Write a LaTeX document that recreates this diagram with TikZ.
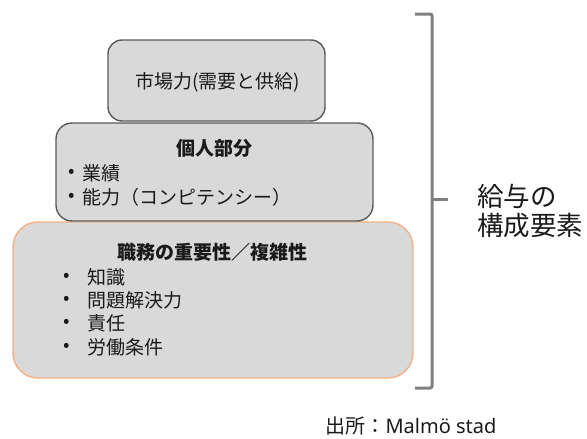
\documentclass[tikz,border=0pt]{standalone}
\usepackage{fontspec}
\setmainfont{Noto Sans CJK JP}
\newfontfamily\latinfont{Noto Sans}
\definecolor{boxfill}{HTML}{D9D9D9}
\definecolor{boxline}{HTML}{5A5A5A}
\definecolor{orangeline}{HTML}{F4B183}
\definecolor{bracketgray}{HTML}{7F7F7F}
\definecolor{txt}{HTML}{1A1A1A}
\begin{document}
\begin{tikzpicture}[x=1pt,y=-1pt,
  tier/.style={draw=boxline, line width=1.4pt, fill=boxfill, rectangle, inner sep=0pt},
  body/.style={font=\fontsize{19}{23}\selectfont, text=txt, inner sep=0pt},
  head/.style={body, font=\fontsize{19}{23}\selectfont\bfseries},
  item/.style={body, anchor=west},
  dot/.style={body},
  side/.style={font=\fontsize{26.5}{30}\selectfont, text=txt, inner sep=0pt, anchor=west},
  brk/.style={draw=bracketgray, line width=3pt, rounded corners=2pt}
]
\useasboundingbox (0,0) rectangle (587,439);

% tiers
\node[tier, draw=orangeline, rounded corners=25pt, minimum width=400pt, minimum height=156pt] (job) at (213,300) {};
\node[tier, rounded corners=16pt, minimum width=317pt, minimum height=98pt] (indiv) at (214.5,172) {};
\node[tier, rounded corners=14pt, minimum width=217pt, minimum height=81pt] (market) at (216.5,80.5) {};

% top tier text
\node[body] (marketT) at (217.5,82) {市場力(需要と供給)};

% middle tier text
\node[head] (indivT) at (214,148) {個人部分};
\node[dot] (d1) at (72,173) {•};
\node[item] (i1) at (82,173) {業績};
\node[dot] (d2) at (72,197) {•};
\node[item] (i2) at (82,197) {能力（コンピテンシー）};

% bottom tier text
\node[head] (jobT) at (212.5,252) {職務の重要性／複雑性};
\node[dot] (b1) at (67,277) {•};
\node[item] (j1) at (87,277) {知識};
\node[dot] (b2) at (67,300) {•};
\node[item] (j2) at (87,300) {問題解決力};
\node[dot] (b3) at (67,323) {•};
\node[item] (j3) at (87,323) {責任};
\node[dot] (b4) at (67,347) {•};
\node[item] (j4) at (87,347) {労働条件};

% bracket
\coordinate (bt0) at (415,14);
\coordinate (bt1) at (432,14);
\coordinate (bb1) at (432,388);
\coordinate (bb0) at (415,388);
\coordinate (bm0) at (432,199);
\coordinate (bm1) at (448,199);
\draw[brk] (bt0) -- (bt1) -- (bb1) -- (bb0);
\draw[draw=bracketgray, line width=3pt] (bm0) -- (bm1);

% side label
\node[side] (s1) at (477,196) {給与の};
\node[side] (s2) at (477,226) {構成要素};

% source
\node[body, font=\fontsize{20}{24}\selectfont] (src) at (411,426) {出所：{\latinfont Malmö stad}};
\end{tikzpicture}
\end{document}
